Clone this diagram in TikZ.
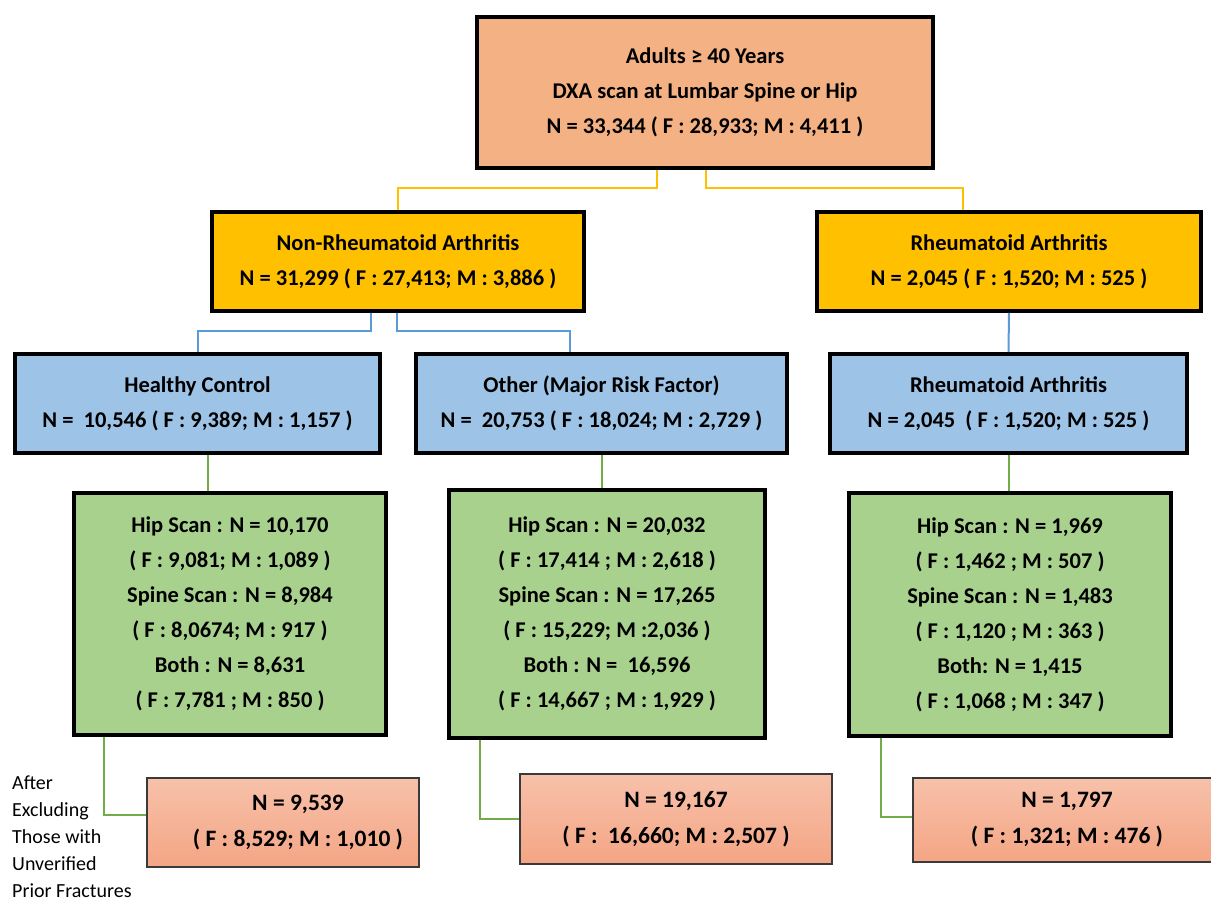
\documentclass[tikz,border=0pt]{standalone}
\usepackage{fontspec}
\setmainfont{Carlito}
\usepackage{tikz}

\definecolor{topfill}{HTML}{F4B183}
\definecolor{rafill}{HTML}{FFC000}
\definecolor{bluefill}{HTML}{9DC3E6}
\definecolor{greenfill}{HTML}{A9D18E}
\definecolor{exlight}{HTML}{F7C1AA}
\definecolor{exdark}{HTML}{F4A584}
\definecolor{exline}{HTML}{3A3A3A}
\definecolor{yline}{HTML}{FFC000}
\definecolor{bline}{HTML}{5B9BD5}
\definecolor{gline}{HTML}{70AD47}

\begin{document}
\begin{tikzpicture}[x=1pt,y=-1pt,
		box/.style={rectangle,draw=black,line width=4pt,align=center,inner sep=0pt,
			font={\fontsize{22.5}{35}\selectfont\bfseries}},
		exbox/.style={rectangle,draw=exline,line width=1.8pt,align=center,inner sep=0pt,
			top color=exlight,bottom color=exdark,
			font={\fontsize{23.5}{36}\selectfont\bfseries}},
		ylink/.style={draw=yline,line width=2pt},
		blink/.style={draw=bline,line width=2pt},
		glink/.style={draw=gline,line width=2pt}]
		\useasboundingbox (0,0) rectangle (1211,902);
		\clip (0,0) rectangle (1211,902);
%		\draw[help lines,step=50] (0,0) grid (1211,902);
		\path (705,92.5) coordinate (adults);
		\path (398,261.5) coordinate (nonra_c);
		\path (1009,261.5) coordinate (ra_c);
		\path (197.5,403.5) coordinate (healthy_c);
		\path (601.5,403.5) coordinate (other_c);
		\path (1008.5,403.5) coordinate (rab_c);
		\path (230,614) coordinate (scan_hc);
		\path (607,614) coordinate (scan_ot);
		\path (1010,614.5) coordinate (scan_ra);
		\path (283,822.5) coordinate (excl_hc);
		\path (676,819) coordinate (excl_ot);
		\path (1067,820) coordinate (excl_ra);
		\path (12,837) coordinate (note);

		\draw (adults) node(top) [box,fill=topfill,minimum width=456,minimum height=151]
			{Adults ≥ 40 Years\\DXA scan at Lumbar Spine or Hip\\N = 33,344 ( F : 28,933; M : 4,411 )};

		\draw (nonra_c) node(nonra) [box,fill=rafill,minimum width=372,minimum height=99]
			{Non-Rheumatoid Arthritis\\N = 31,299 ( F : 27,413; M : 3,886 )};
		\draw (ra_c) node(ra) [box,fill=rafill,minimum width=384,minimum height=99]
			{Rheumatoid Arthritis\\N = 2,045 ( F : 1,520; M : 525 )};

		\draw (healthy_c) node(healthy) [box,fill=bluefill,minimum width=365,minimum height=99]
			{Healthy Control\\N = \ 10,546 ( F : 9,389; M : 1,157 )};
		\draw (other_c) node(other) [box,fill=bluefill,minimum width=371,minimum height=99]
			{Other (Major Risk Factor)\\N = \ 20,753 ( F : 18,024; M : 2,729 )};
		\draw (rab_c) node(rab) [box,fill=bluefill,minimum width=357,minimum height=99]
			{Rheumatoid Arthritis\\N = 2,045 \ ( F : 1,520; M : 525 )};

		\draw (scan_hc) node(hc_scan) [box,fill=greenfill,minimum width=312,minimum height=242]
			{Hip Scan : N = 10,170\\( F : 9,081; M : 1,089 )\\Spine Scan : N = 8,984\\( F : 8,0674; M : 917 )\\Both : N = 8,631\\( F : 7,781 ; M : 850 )};
		\draw (scan_ot) node(ot_scan) [box,fill=greenfill,minimum width=316,minimum height=248]
			{Hip Scan : N = 20,032\\( F : 17,414 ; M : 2,618 )\\Spine Scan : N = 17,265\\( F : 15,229; M :2,036 )\\Both : N = \ 16,596\\( F : 14,667 ; M : 1,929 )};
		\draw (scan_ra) node(ra_scan) [box,fill=greenfill,minimum width=322,minimum height=243]
			{Hip Scan : N = 1,969\\( F : 1,462 ; M : 507 )\\Spine Scan : N = 1,483\\( F : 1,120 ; M : 363 )\\Both: N = 1,415\\( F : 1,068 ; M : 347 )};

		% text sits a little right of the box centre here
		\draw (excl_hc) node(hc_excl) [exbox,minimum width=272,minimum height=89]
			{\hspace*{30pt}N = 9,539\\\hspace*{30pt}( F : 8,529; M : 1,010 )};
		\draw (excl_ot) node(ot_excl) [exbox,minimum width=312,minimum height=90]
			{N = 19,167\\( F : \ 16,660; M : 2,507 )};
		\draw (excl_ra) node(ra_excl) [exbox,minimum width=308,minimum height=84]
			{N = 1,797\\( F : 1,321; M : 476 )};

		\draw (note) node(after) [anchor=west,align=left,inner sep=0pt,font={\fontsize{20}{27}\selectfont}]
			{After\\Excluding\\Those with\\Unverified\\Prior Fractures};

		% links
		\draw[ylink] ([xshift=-48]top.south) -- ++(0,18) -| (nonra.north);
		\draw[ylink] ([xshift=1]top.south) -- ++(0,18) -| ([xshift=-46]ra.north);
		\draw[blink] ([xshift=-27]nonra.south) -- ++(0,18) -| (healthy.north);
		\draw[blink] ([xshift=-1]nonra.south) -- ++(0,18) -| ([xshift=-32]other.north);
		\draw[blink] (ra.south) -- (rab.north);

		\path ([xshift=10]healthy.south) coordinate (hc_down);
		\draw[glink] (hc_down) -- (hc_down |- hc_scan.north);
		\draw[glink] (other.south) -- (other.south |- ot_scan.north);
		\draw[glink] (rab.south) -- (rab.south |- ra_scan.north);

		\path ([xshift=32]hc_scan.south west) coordinate (hc_exit);
		\path ([xshift=33]ot_scan.south west) coordinate (ot_exit);
		\path ([xshift=34]ra_scan.south west) coordinate (ra_exit);
		\draw[glink] (hc_exit) |- ([yshift=8]hc_excl.west);
		\draw[glink] (ot_exit) |- (ot_excl.west);
		\draw[glink] (ra_exit) |- ([yshift=3]ra_excl.west);
	\end{tikzpicture}
\end{document}
